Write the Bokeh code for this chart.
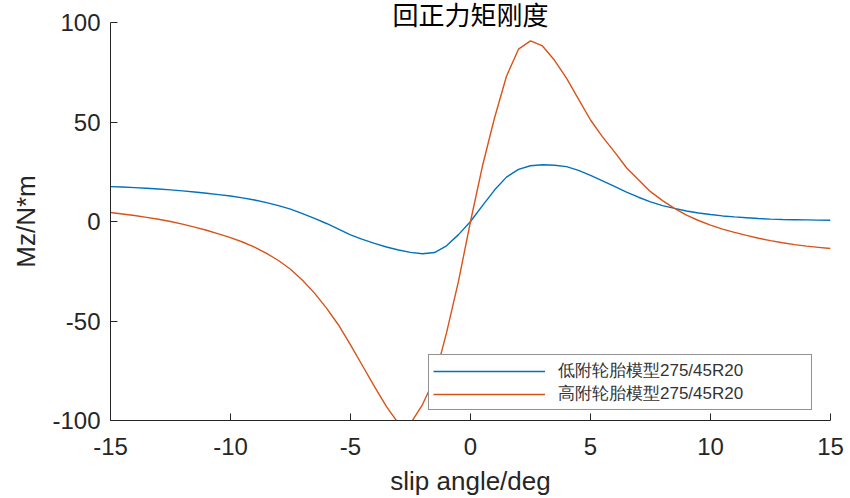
from bokeh.plotting import figure
from bokeh.models import Range1d, FixedTicker, Legend, LegendItem
from bokeh.embed import file_html
from bokeh.resources import INLINE

# ---- data ----
slip_deg = [-15.0, -14.5, -14.0, -13.5, -13.0, -12.5, -12.0, -11.5, -11.0, -10.5,
            -10.0, -9.5, -9.0, -8.5, -8.0, -7.5, -7.0, -6.5, -6.0, -5.5,
            -5.0, -4.5, -4.0, -3.5, -3.0, -2.5, -2.0, -1.5, -1.0, -0.5,
            0.0, 0.5, 1.0, 1.5, 2.0, 2.5, 3.0, 3.5, 4.0, 4.5,
            5.0, 5.5, 6.0, 6.5, 7.0, 7.5, 8.0, 8.5, 9.0, 9.5,
            10.0, 10.5, 11.0, 11.5, 12.0, 12.5, 13.0, 13.5, 14.0, 14.5, 15.0]

mz_low = [17.5, 17.3, 17.0, 16.7, 16.3, 15.9, 15.4, 14.8, 14.2, 13.5,
          12.8, 11.9, 10.8, 9.5, 8.0, 6.2, 4.0, 1.6, -1.0, -3.8,
          -6.7, -9.0, -11.0, -12.8, -14.3, -15.5, -16.2, -15.6, -12.2, -6.6,
          0.0, 8.0, 15.8, 22.3, 26.2, 28.0, 28.5, 28.3, 27.6, 25.7,
          23.2, 20.4, 17.6, 14.8, 12.2, 9.9, 8.0, 6.6, 5.3, 4.3,
          3.5, 2.8, 2.3, 1.9, 1.5, 1.2, 1.0, 0.9, 0.8, 0.7, 0.6]

mz_high = [4.5, 3.8, 3.0, 2.1, 1.1, 0.0, -1.3, -2.8, -4.4, -6.2,
           -8.1, -10.3, -12.9, -16.0, -19.6, -24.0, -29.5, -36.0, -43.5, -52.0,
           -62.0, -72.5, -83.0, -93.0, -101.5, -101.5, -92.0, -79.0, -56.0, -30.0,
           0.0, 28.0, 52.0, 73.0, 86.6, 90.8, 88.2, 81.0, 72.0, 61.5,
           51.0, 42.5, 35.0, 27.0, 21.0, 15.0, 10.5, 6.6, 3.2, 0.5,
           -1.8, -3.8, -5.5, -7.0, -8.4, -9.6, -10.7, -11.6, -12.4, -13.0, -13.6]

x_ticks = [-15, -10, -5, 0, 5, 10, 15]
y_ticks = [-100, -50, 0, 50, 100]

series_names = ["低附轮胎模型275/45R20", "高附轮胎模型275/45R20"]
title_text = "回正力矩刚度"
x_label = "slip angle/deg"
y_label = "Mz/N*m"

BLUE = "#0072BD"
ORANGE = "#D95319"
AXC = "#262626"
FONT = "'Liberation Sans', 'Noto Sans CJK SC'"

p = figure(width=848, height=498, output_backend="svg", toolbar_location=None,
           x_range=Range1d(-15, 15), y_range=Range1d(-100, 100),
           min_border_left=110, min_border_right=18,
           min_border_top=22, min_border_bottom=78)
p.outline_line_color = None
p.grid.visible = False
p.background_fill_color = "white"
p.border_fill_color = "white"

# title (allowed to reach down over the empty top of the frame, as in the reference)
p.title.text = title_text
p.title.align = "center"
p.title.text_font = "Noto Sans CJK SC"
p.title.text_font_size = "26px"
p.title.text_font_style = "normal"
p.title.text_color = "#000000"
p.title.standoff = -19

r_low = p.line(slip_deg, mz_low, line_color=BLUE, line_width=1.4)
r_high = p.line(slip_deg, mz_high, line_color=ORANGE, line_width=1.4)

for ax, ticks in ((p.xaxis[0], x_ticks), (p.yaxis[0], y_ticks)):
    ax.ticker = FixedTicker(ticks=ticks)
    ax.major_label_overrides = {t: str(t) for t in ticks}
    ax.minor_tick_line_color = None
    ax.major_tick_in = 7
    ax.major_tick_out = 0
    ax.axis_line_color = AXC
    ax.major_tick_line_color = AXC
    ax.major_label_text_font = FONT
    ax.major_label_text_font_size = "24px"
    ax.major_label_text_color = AXC
    ax.axis_label_text_font = FONT
    ax.axis_label_text_font_size = "26px"
    ax.axis_label_text_font_style = "normal"
    ax.axis_label_text_color = AXC
    ax.axis_label_text_line_height = 0.9

p.xaxis[0].axis_label = x_label
p.yaxis[0].axis_label = y_label
p.xaxis[0].major_label_standoff = 17
p.xaxis[0].axis_label_standoff = 8
p.yaxis[0].major_label_standoff = 10
p.yaxis[0].axis_label_standoff = 8

legend = Legend(items=[LegendItem(label=series_names[0], renderers=[r_low]),
                       LegendItem(label=series_names[1], renderers=[r_high])],
                location=(318, 10), orientation="vertical",
                padding=4, spacing=0, margin=0,
                glyph_width=112, glyph_height=20, label_height=20,
                label_width=249, label_standoff=13,
                label_text_font="Liberation Sans", label_text_font_size="17px",
                label_text_color="#333333",
                border_line_color=AXC, border_line_width=1,
                background_fill_color="white", background_fill_alpha=1.0)
p.add_layout(legend, "center")

open("out.html", "w").write(file_html(p, INLINE))
